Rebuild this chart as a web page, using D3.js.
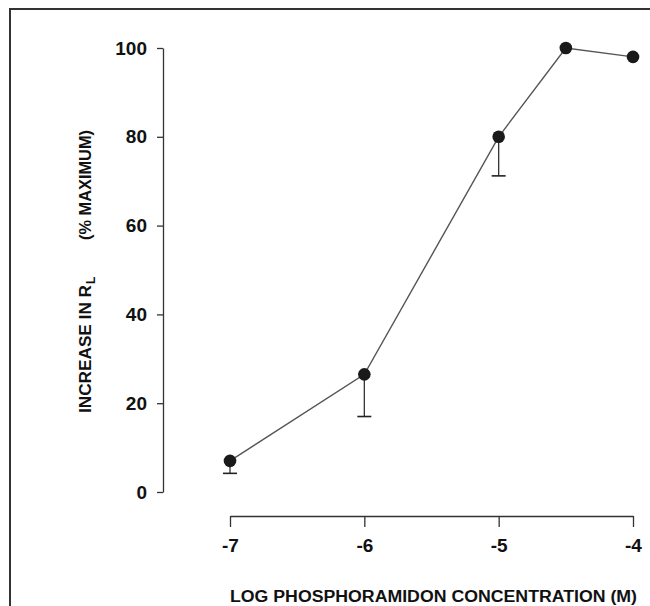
<!DOCTYPE html>
<html>
<head>
<meta charset="utf-8">
<script src="https://cdn.jsdelivr.net/npm/d3@7"></script>
<style>
  html, body { margin: 0; padding: 0; background: #fff; }
  svg { display: block; }
  text { font-family: "Liberation Sans", Arial, Helvetica, sans-serif; font-weight: bold; fill: #111; }
</style>
</head>
<body>
<svg id="chart" width="650" height="606"></svg>
<script>
// Data
const logConc = [-7, -6, -5, -4.5, -4];
const increase = [7, 26.5, 80, 100, 98];
const errLow = [4.2, 17, 71.2, null, null];
const xTicks = [-7, -6, -5, -4];
const yTicks = [0, 20, 40, 60, 80, 100];
const xTitle = "LOG PHOSPHORAMIDON CONCENTRATION (M)";
const yTitleMain = "INCREASE IN R";
const yTitleSub = "L";
const yTitleUnit = "(% MAXIMUM)";

const svg = d3.select("#chart");

// frame (left and top edges)
svg.append("path")
  .attr("d", "M10,606 V9 H650")
  .attr("fill", "none").attr("stroke", "#333").attr("stroke-width", 2);

const x = d3.scaleLinear().domain([-7, -4]).range([230, 633]);
const y = d3.scaleLinear().domain([0, 100]).range([492, 48]);

// Y axis
const yAxis = d3.axisLeft(y).tickValues(yTicks).tickSize(6).tickPadding(10).tickSizeOuter(0);
const gy = svg.append("g").attr("transform", "translate(163,0)").call(yAxis);
gy.select(".domain").attr("stroke", "#333").attr("stroke-width", 1.3);
gy.selectAll(".tick line").attr("stroke", "#333").attr("stroke-width", 1.3);
gy.selectAll(".tick text").attr("font-size", 19).attr("fill", "#111")
  .attr("font-family", "Liberation Sans, Arial, sans-serif").attr("font-weight", "bold");

// X axis
const xAxis = d3.axisBottom(x).tickValues(xTicks).tickSize(11).tickPadding(12).tickSizeOuter(0)
  .tickFormat(d => "-" + Math.abs(d));
const gx = svg.append("g").attr("transform", "translate(0,516)").call(xAxis);
gx.select(".domain").attr("stroke", "#333").attr("stroke-width", 1.3);
gx.selectAll(".tick line").attr("stroke", "#333").attr("stroke-width", 1.3);
gx.selectAll(".tick text").attr("font-size", 19).attr("fill", "#111")
  .attr("font-family", "Liberation Sans, Arial, sans-serif").attr("font-weight", "bold");

// Data
const pts = logConc.map((c, i) => ({ c, v: increase[i], lo: errLow[i] }));

// error bars (downward only with cap)
const eb = svg.append("g");
pts.filter(d => d.lo !== null).forEach(d => {
  eb.append("line")
    .attr("x1", x(d.c)).attr("x2", x(d.c))
    .attr("y1", y(d.v)).attr("y2", y(d.lo))
    .attr("stroke", "#333").attr("stroke-width", 1.3);
  eb.append("line")
    .attr("x1", x(d.c) - 7).attr("x2", x(d.c) + 7)
    .attr("y1", y(d.lo)).attr("y2", y(d.lo))
    .attr("stroke", "#222").attr("stroke-width", 1.6);
});

// line
svg.append("path")
  .datum(pts)
  .attr("fill", "none")
  .attr("stroke", "#555")
  .attr("stroke-width", 1.4)
  .attr("d", d3.line().x(d => x(d.c)).y(d => y(d.v)));

// points
svg.append("g").selectAll("circle").data(pts).join("circle")
  .attr("cx", d => x(d.c)).attr("cy", d => y(d.v)).attr("r", 6.3)
  .attr("fill", "#1a1a1a");

// X title
svg.append("text")
  .attr("x", 230).attr("y", 602)
  .attr("font-size", 16)
  .attr("textLength", 407).attr("lengthAdjust", "spacingAndGlyphs")
  .text(xTitle);

// Y title
const yt = svg.append("text")
  .attr("transform", "translate(91,413) rotate(-90)")
  .attr("font-size", 16);
yt.append("tspan").text(yTitleMain).attr("textLength", 128).attr("lengthAdjust", "spacingAndGlyphs");
yt.append("tspan").text(yTitleSub).attr("font-size", 12).attr("dy", 4).attr("dx", 1);

svg.append("text")
  .attr("transform", "translate(91,240) rotate(-90)")
  .attr("font-size", 16)
  .attr("textLength", 110).attr("lengthAdjust", "spacingAndGlyphs")
  .text(yTitleUnit);
</script>
</body>
</html>
